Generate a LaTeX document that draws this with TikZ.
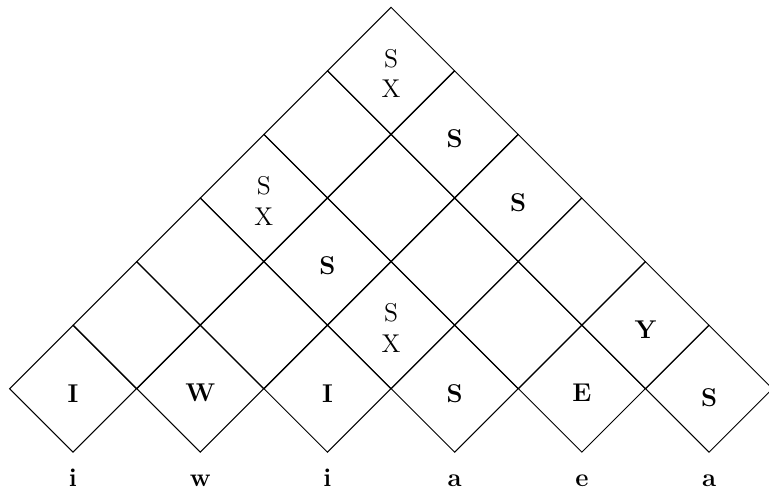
\documentclass[tikz,border=0pt]{standalone}
\usepackage{fontspec}
\usepackage{tikz}
\usetikzlibrary{shapes.geometric}
\tikzset{
  cell/.style={diamond, draw, line width=0.45pt, minimum width=2cm, minimum height=2cm, inner sep=0pt},
  lbl/.style={font=\fontsize{11.5}{13}\selectfont\bfseries, align=center, inner sep=0pt},
  pair/.style={font=\fontsize{11.5}{13.8}\selectfont, align=center, inner sep=0pt},
  word/.style={font=\fontsize{11.5}{14}\selectfont\bfseries, anchor=base, inner sep=0pt}
}
\begin{document}
\begin{tikzpicture}[scale=1.0]
  \useasboundingbox (0,0) rectangle (12.09,7.736);
  % chart cells: row r holds 6-r diamonds, centre x=(x0+2i+r), y=(y0+r)
  \foreach \r in {0,...,5} {
    \pgfmathtruncatemacro\last{5-\r}
    \foreach \i in {0,...,\last} {
      \node[cell] (c\r\i) at ({1.148+2*\i+\r},{1.624+\r}) {};
    }
  }
  % entries of the chart
  \foreach \p/\t in {00/I, 01/W, 02/I, 03/S, 04/E, 14/Y, 21/S, 32/S, 41/S} {
    \node[lbl, yshift=-2pt] (l\p) at (c\p) {\t};
  }
  \foreach \p in {12, 30, 50} {
    \node[pair, yshift=-1.2pt] (l\p) at (c\p) {S\\X};
  }
  \node[lbl, yshift=-3.8pt] (l05) at (c05) {S};
  % input words
  \foreach \i/\w in {0/i, 1/w, 2/i, 3/a, 4/e, 5/a} {
    \node[word] (w\i) at ({1.148+2*\i},0.08) {\w};
  }
\end{tikzpicture}
\end{document}
